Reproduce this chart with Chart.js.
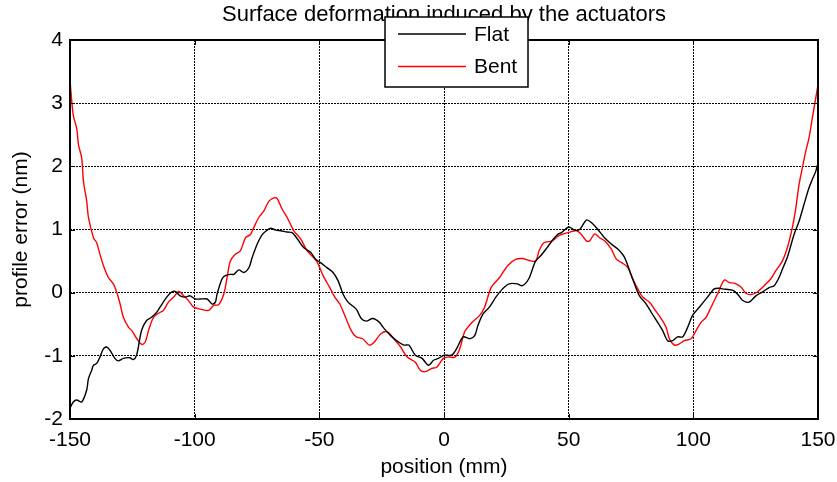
<!DOCTYPE html>
<html>
<head>
<meta charset="utf-8">
<script src="https://cdn.jsdelivr.net/npm/chart.js@4"></script>
<style>
  html, body { margin: 0; padding: 0; background: #fff; }
  #wrap { width: 837px; height: 482px; }
</style>
</head>
<body>
<div id="wrap"><canvas id="chart" width="837" height="482"></canvas></div>
<script>
// values
const flatX = [-150, -148.7, -147.3, -145.3, -143.3, -142.6, -141.3, -140.6, -139.3, -138, -136.6, -135.3, -134, -132, -130.6, -128.6, -126, -124.7, -123.3, -121.3, -119.3, -117.3, -115.2, -113.9, -111.2, -109.2, -107.8, -105.8, -103.8, -101.8, -99.8, -97.7, -95, -93, -91.7, -91, -89, -87.7, -85.7, -84.3, -82.3, -80.3, -78.3, -76.9, -74.9, -72.9, -70.9, -69.5, -67.5, -65.5, -62.9, -60.9, -58.8, -56.2, -53.5, -51.5, -49.7, -47.1, -44.5, -42.5, -40.5, -38.5, -35.2, -33.2, -31.2, -28.6, -25.9, -24, -21.4, -18.7, -16.1, -14.1, -11.5, -8.8, -6.2, -4.2, -2.2, 0, 3, 5, 7.7, 10.3, 12.3, 13.6, 15.6, 18.2, 20.8, 23.5, 26.1, 29.4, 31.4, 34, 36.7, 38.7, 41.3, 43.9, 45.9, 47.1, 50, 52.4, 54.4, 57.1, 59.1, 61.7, 64.4, 67.1, 69.7, 72.4, 74.4, 76.4, 78.4, 81.1, 83.1, 85.7, 87.7, 89.7, 91.7, 93.7, 95.7, 97.7, 99.7, 102.4, 105.7, 108.4, 110.4, 111.7, 115.7, 117.7, 119.7, 122.4, 125.1, 127.7, 130.4, 132.4, 134.4, 135.7, 137.7, 140.4, 142.4, 144.4, 146.4, 147.7, 149.1, 150];
const flatY = [-1.83, -1.73, -1.70, -1.73, -1.54, -1.36, -1.23, -1.15, -1.12, -1.02, -0.89, -0.86, -0.91, -1.04, -1.08, -1.04, -1.03, -1.06, -0.99, -0.60, -0.44, -0.39, -0.31, -0.23, -0.07, 0.01, 0.02, -0.05, -0.07, -0.05, -0.10, -0.10, -0.10, -0.18, -0.15, -0.02, 0.22, 0.27, 0.29, 0.29, 0.36, 0.32, 0.39, 0.56, 0.77, 0.92, 0.99, 1.02, 0.99, 0.98, 0.96, 0.95, 0.85, 0.71, 0.64, 0.53, 0.48, 0.40, 0.32, 0.19, -0.02, -0.15, -0.26, -0.41, -0.45, -0.41, -0.47, -0.57, -0.68, -0.77, -0.83, -0.83, -0.99, -1.04, -1.15, -1.07, -1.04, -0.99, -0.99, -0.89, -0.70, -0.73, -0.68, -0.52, -0.34, -0.23, -0.07, 0.06, 0.14, 0.14, 0.11, 0.22, 0.50, 0.58, 0.71, 0.85, 0.93, 0.95, 1.04, 0.99, 1.00, 1.15, 1.11, 1.00, 0.87, 0.77, 0.69, 0.56, 0.35, 0.14, -0.05, -0.18, -0.31, -0.47, -0.60, -0.76, -0.76, -0.70, -0.70, -0.55, -0.36, -0.23, -0.07, 0.06, 0.07, 0.06, 0.04, -0.02, -0.12, -0.15, -0.05, 0.01, 0.08, 0.11, 0.24, 0.37, 0.56, 0.92, 1.13, 1.40, 1.66, 1.79, 1.92, 2.05];

const bentX = [-150, -148.7, -147.3, -146.6, -145.3, -144.6, -143.3, -142.6, -140.6, -139.3, -138, -136.6, -134.6, -132.6, -131.2, -129.9, -128.6, -126.5, -125.2, -123.2, -121.2, -119.8, -118.5, -116.5, -113.8, -112.5, -110.5, -108.4, -106.4, -104.4, -102.4, -100.4, -97.7, -94.4, -92.4, -90.4, -88.3, -87, -85.7, -83.7, -81.7, -79.6, -77.6, -76.3, -74.3, -72.3, -70.2, -68.2, -66.9, -64.9, -62.9, -60.2, -57.5, -54.8, -51.1, -48.5, -45.8, -43.8, -41.8, -39.8, -37.2, -35.2, -32.6, -29.9, -27.9, -25.3, -22.7, -20.1, -17.4, -14.8, -11.5, -9.5, -7.5, -4.9, -2.9, -0.3, 1.7, 4.4, 6.3, 8.3, 11, 14.3, 16.3, 18.9, 22.3, 25.6, 28.9, 31.5, 34.2, 36.8, 38.1, 40.1, 43.4, 46, 49.7, 53.1, 55.1, 57.1, 58.4, 60.4, 62.4, 64.4, 67.1, 69.1, 71.1, 73.7, 75.7, 77.7, 79.7, 82.4, 84.4, 87.1, 89.1, 90.4, 92.4, 94.4, 96.4, 99.1, 101.1, 103.1, 105.1, 107.1, 109.7, 112.4, 114.4, 116.4, 119.1, 121.1, 123.1, 125.7, 128.4, 131.1, 133.1, 135.7, 137.7, 139.7, 141.1, 142.4, 143.7, 145.1, 146.4, 147.7, 149.1, 150];
const bentY = [3.36, 2.81, 2.60, 2.34, 2.13, 1.76, 1.45, 1.19, 0.87, 0.79, 0.61, 0.43, 0.24, 0.14, 0.00, -0.18, -0.39, -0.55, -0.60, -0.73, -0.82, -0.78, -0.60, -0.39, -0.31, -0.28, -0.15, -0.07, 0.02, -0.05, -0.13, -0.23, -0.26, -0.28, -0.20, -0.19, -0.02, 0.24, 0.50, 0.61, 0.66, 0.87, 0.92, 1.03, 1.19, 1.29, 1.45, 1.50, 1.49, 1.32, 1.19, 0.98, 0.85, 0.66, 0.50, 0.27, 0.08, -0.07, -0.18, -0.36, -0.60, -0.70, -0.73, -0.83, -0.78, -0.65, -0.62, -0.73, -0.86, -1.02, -1.10, -1.23, -1.25, -1.20, -1.18, -1.04, -1.02, -1.02, -0.89, -0.62, -0.48, -0.36, -0.23, 0.08, 0.24, 0.43, 0.53, 0.54, 0.51, 0.50, 0.66, 0.79, 0.82, 0.90, 0.95, 0.98, 0.92, 0.82, 0.82, 0.93, 0.87, 0.82, 0.69, 0.53, 0.48, 0.40, 0.22, 0.06, -0.07, -0.15, -0.26, -0.41, -0.55, -0.73, -0.83, -0.81, -0.76, -0.73, -0.60, -0.47, -0.39, -0.23, -0.02, 0.20, 0.16, 0.15, 0.09, -0.01, -0.03, 0.01, 0.11, 0.22, 0.35, 0.50, 0.71, 1.03, 1.34, 1.71, 1.97, 2.24, 2.45, 2.76, 3.08, 3.29];

const seriesNames = ['Flat', 'Bent'];
const seriesColors = ['#000000', '#ff0000'];
const xTicks = [-150, -100, -50, 0, 50, 100, 150];
const yTicks = [-2, -1, 0, 1, 2, 3, 4];
const titleText = 'Surface deformation induced by the actuators';

const FONT = 'Liberation Sans, Arial, Helvetica, sans-serif';

function toPoints(xs, ys) {
    return xs.map((x, i) => ({ x: x, y: ys[i] }));
}

// title over the plot, frame, inward ticks and the boxed legend (matlab look)
const matlabFrame = {
    id: 'matlabFrame',
    afterDraw(chart) {
        const ctx = chart.ctx;
        const a = chart.chartArea;
        const xs = chart.scales.x, ys = chart.scales.y;
        ctx.save();
        ctx.fillStyle = '#000';
        ctx.font = '22px ' + FONT;
        ctx.textAlign = 'center';
        ctx.textBaseline = 'middle';
        ctx.fillText(titleText, (a.left + a.right) / 2, 15);

        ctx.strokeStyle = '#000';
        ctx.lineWidth = 1;
        ctx.setLineDash([]);
        ctx.beginPath();
        xTicks.forEach(v => {
            const px = Math.round(xs.getPixelForValue(v)) + 0.5;
            ctx.moveTo(px, a.bottom); ctx.lineTo(px, a.bottom - 5);
            ctx.moveTo(px, a.top); ctx.lineTo(px, a.top + 5);
        });
        yTicks.forEach(v => {
            const py = Math.round(ys.getPixelForValue(v)) + 0.5;
            ctx.moveTo(a.left, py); ctx.lineTo(a.left + 5, py);
            ctx.moveTo(a.right, py); ctx.lineTo(a.right - 5, py);
        });
        ctx.stroke();
        ctx.lineWidth = 2;
        ctx.strokeRect(a.left, a.top, a.right - a.left, a.bottom - a.top);

        // legend
        const bx = 385, by = 17, bw = 143, bh = 70;
        ctx.fillStyle = '#fff';
        ctx.fillRect(bx, by, bw, bh);
        ctx.lineWidth = 1.5;
        ctx.strokeStyle = '#000';
        ctx.strokeRect(bx, by, bw, bh);
        ctx.font = '21px ' + FONT;
        ctx.textBaseline = 'middle';
        ctx.textAlign = 'left';
        chart.data.datasets.forEach((ds, i) => {
            const ly = 34 + i * 32.5;
            ctx.strokeStyle = ds.borderColor;
            ctx.lineWidth = 1.3;
            ctx.beginPath();
            ctx.moveTo(398, ly); ctx.lineTo(466, ly);
            ctx.stroke();
            ctx.fillStyle = '#000';
            ctx.fillText(ds.label, 474, ly + 1);
        });
        ctx.restore();
    }
};

new Chart(document.getElementById('chart'), {
    type: 'line',
    data: {
        datasets: [
            { label: seriesNames[0], data: toPoints(flatX, flatY), borderColor: seriesColors[0], borderWidth: 1.4, pointRadius: 0, tension: 0.3, fill: false },
            { label: seriesNames[1], data: toPoints(bentX, bentY), borderColor: seriesColors[1], borderWidth: 1.4, pointRadius: 0, tension: 0.3, fill: false }
        ]
    },
    options: {
        responsive: false,
        animation: false,
        layout: { padding: { left: 0, right: 19, top: 40, bottom: 0 } },
        plugins: {
            legend: { display: false },
            tooltip: { enabled: false },
            title: { display: false }
        },
        scales: {
            x: {
                type: 'linear',
                min: -150, max: 150,
                afterBuildTicks: s => { s.ticks = xTicks.map(v => ({ value: v })); },
                afterFit: s => { s.height = 63; s.paddingLeft = 0; s.paddingRight = 0; },
                grid: { color: '#000', lineWidth: 1, drawTicks: false },
                border: { display: false, dash: [2, 1] },
                ticks: { color: '#000', padding: 8.5, maxRotation: 0, font: { family: FONT, size: 21 } },
                title: { display: true, text: 'position (mm)', color: '#000', padding: { top: 0, bottom: 2.5 }, font: { family: FONT, size: 21 } }
            },
            y: {
                type: 'linear',
                min: -2, max: 4,
                afterBuildTicks: s => { s.ticks = yTicks.map(v => ({ value: v })); },
                afterFit: s => { s.width = 70; s.paddingTop = 0; s.paddingBottom = 0; },
                grid: { color: '#000', lineWidth: 1, drawTicks: false },
                border: { display: false, dash: [2, 1] },
                ticks: { color: '#000', padding: 7, font: { family: FONT, size: 21 } },
                title: { display: true, text: 'profile error (nm)', color: '#000', padding: { top: 8.5, bottom: 0 }, font: { family: FONT, size: 21 } }
            }
        }
    },
    plugins: [matlabFrame]
});
</script>
</body>
</html>
